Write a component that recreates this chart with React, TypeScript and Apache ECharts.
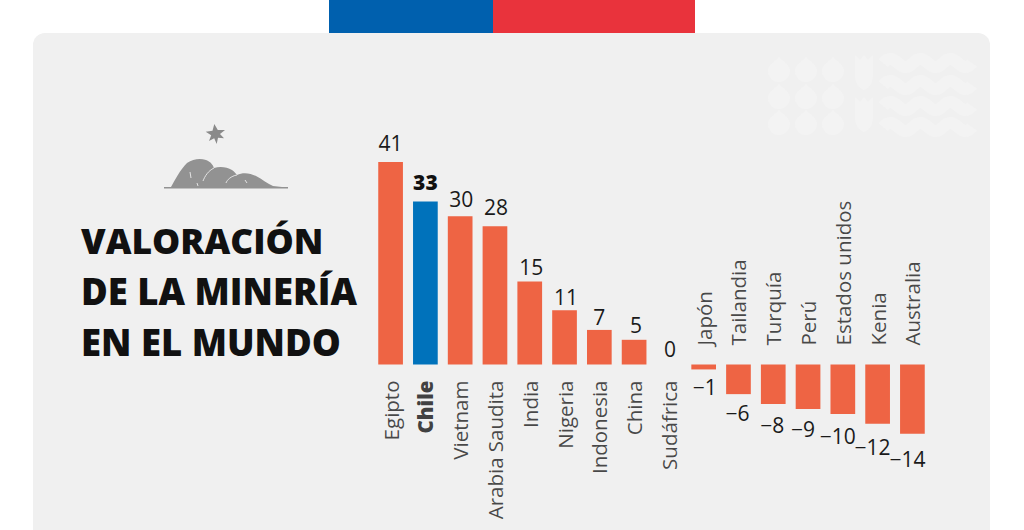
import React, { useEffect, useRef } from "react";
import * as echarts from "echarts";

const categories = ["Egipto", "Chile", "Vietnam", "Arabia Saudita", "India", "Nigeria", "Indonesia", "China", "Sudáfrica", "Japón", "Tailandia", "Turquía", "Perú", "Estados unidos", "Kenia", "Australia"];
// Printed value of each country
const printedValues = [41, 33, 30, 28, 15, 11, 7, 5, 0, -1, -6, -8, -9, -10, -12, -14];
// Bar length as drawn in the picture (India's bar is drawn longer than its printed 15)
const barValues = [41, 33, 30, 28, 16.8, 11, 7, 5, 0, -1, -6, -8, -9, -10, -12, -14];
const highlighted = "Chile";

const ORANGE = "#ee6444";
const BLUE = "#0072bb";
const INK = "#1a1a1a";
const FONT = "'Open Sans', 'Noto Sans', sans-serif";

const labelGap = [8, 9, 7, 9, 4, 3, 2, 4, 5, 7, 8, 10, 10, 12, 13, 15];
const labelShift = [0, 0, 1, 1, 1.5, 1.5, 0, 2, 1, 1, -1, -1, -5, -5, -5, -5];

const MOUNTAIN = "M164 187 L171 187 C175 180 180 170 187 163 C193 159 200 158 206 160 C211 162 213 165 214 168 C220 166 227 167 232 170 C235 172 236 174 237 175 C243 172 250 173 256 176 C262 179 268 184 273 186 L282 187 L288 187 L288 188.5 L164 188.5 Z";
const CRACKS = "M214 168 C208 171 205 176 203 181 M237 175 C231 176 227 180 226 183 M190 172 L191 178 M197 183 L198 186 M245 180 L247 183";
const STAR = "M214.3 124 L217.8 130.1 L225 130 L220 134 L224 138.3 L218 137.7 L216.7 144 L214.2 138.3 L209 141 L211.2 135.3 L205.7 131.7 L212.5 130.7 Z";
const WAVE = "M0 0 Q7 -8 15 0 T30 0 T45 0 T60 0 T75 0 T89 0";
const TULIP = "M0 0 L5 5 L9 0 L13 5 L18 0 L18 20 C18 30 12 34 9 35 C6 34 0 30 0 20 Z";
const DROP = "M0 -13 C3 -9 11 -6 11 1 C11 7 6 12 0 12 C-6 12 -11 7 -11 1 C-11 -6 -3 -9 0 -13 Z";

const reg = (name: string, d: string) => echarts.graphic.registerShape(name, (echarts.graphic as any).extendPath(d, {}));
reg("mountainShape", MOUNTAIN);
reg("crackShape", CRACKS);
reg("starShape", STAR);
reg("waveShape", WAVE);
reg("tulipShape", TULIP);
reg("dropShape", DROP);

const WATERMARK = "#f3f3f3";
const decor: any[] = [];
[779, 806, 833].forEach((x) => [70, 97, 123].forEach((y) => decor.push({ type: "dropShape", x, y, style: { fill: WATERMARK } })));
[55, 97].forEach((y) => decor.push({ type: "tulipShape", x: 855, y, style: { fill: WATERMARK } }));
[63, 85, 106, 127].forEach((y) => decor.push({ type: "waveShape", x: 883, y, style: { fill: "none", stroke: WATERMARK, lineWidth: 12 } }));

export default function App() {
  const ref = useRef<HTMLDivElement>(null);
  useEffect(() => {
    const chart = echarts.init(ref.current!, null, { renderer: "svg" });
    chart.setOption({
      animation: false,
      backgroundColor: "#ffffff",
      title: {
        text: "{a|VALORACIÓN}\n{b|DE LA MINERÍA}\n{b|EN EL MUNDO}",
        left: 81,
        top: 214,
        padding: 0,
        textStyle: {
          fontFamily: FONT,
          fontWeight: 800,
          color: "#111111",
          rich: {
            a: { fontFamily: FONT, fontSize: 35.5, fontWeight: 800, lineHeight: 51, color: "#111111" },
            b: { fontFamily: FONT, fontSize: 36.5, fontWeight: 800, lineHeight: 51, color: "#111111" },
          },
        },
      },
      graphic: [
        { type: "rect", shape: { x: 33, y: 33, width: 957, height: 520, r: 12 }, style: { fill: "#f0f0f0" } },
        { type: "rect", shape: { x: 329, y: 0, width: 164, height: 33 }, style: { fill: "#0060ae" } },
        { type: "rect", shape: { x: 493, y: 0, width: 202, height: 33 }, style: { fill: "#e9333c" } },
        { type: "mountainShape", style: { fill: "#929292" } },
        { type: "crackShape", style: { fill: "none", stroke: "#e4e4e4", lineWidth: 1 } },
        { type: "starShape", style: { fill: "#8a8a8a" } },
        ...decor,
      ],
      grid: { left: 373.2, width: 556.6, top: 142.2, height: 321.1, outerBoundsMode: "none", containLabel: false },
      xAxis: {
        type: "category",
        data: categories,
        axisLine: { show: false },
        axisTick: { show: false },
        axisLabel: { show: false },
      },
      yAxis: { type: "value", min: -20, max: 45, show: false, splitLine: { show: false } },
      series: [
        {
          type: "bar",
          barWidth: 24.7,
          data: barValues.map((v, i) => ({
            value: v,
            itemStyle: { color: categories[i] === highlighted ? BLUE : ORANGE },
            label: {
              show: true,
              position: printedValues[i] < 0 ? "bottom" : "top",
              distance: labelGap[i],
              offset: [labelShift[i], 0],
              formatter: String(printedValues[i]).replace("-", "\u2212"),
              fontFamily: FONT,
              fontSize: 21,
              fontWeight: categories[i] === highlighted ? 800 : 400,
              color: categories[i] === highlighted ? "#111111" : INK,
            },
          })),
        },
        {
          // Country names sit on the zero line: below it for bars going up, above it for bars going down
          type: "scatter",
          symbolSize: 0,
          silent: true,
          data: categories.map((c, i) => {
            const below = barValues[i] >= 0;
            return {
              value: [i, 0],
              label: {
                show: true,
                position: below ? "bottom" : "top",
                distance: below ? 17 : 19,
                offset: [below ? 1 : 0, 0],
                rotate: 90,
                align: below ? "right" : "left",
                verticalAlign: "middle",
                formatter: c,
                fontFamily: FONT,
                fontSize: 20.5,
                fontWeight: c === highlighted ? 800 : 400,
                color: c === highlighted ? "#111111" : INK,
              },
            };
          }),
        },
      ],
    });
    return () => chart.dispose();
  }, []);
  return <div ref={ref} style={{ position: "absolute", left: 0, top: 0, width: 1024, height: 530 }} />;
}
